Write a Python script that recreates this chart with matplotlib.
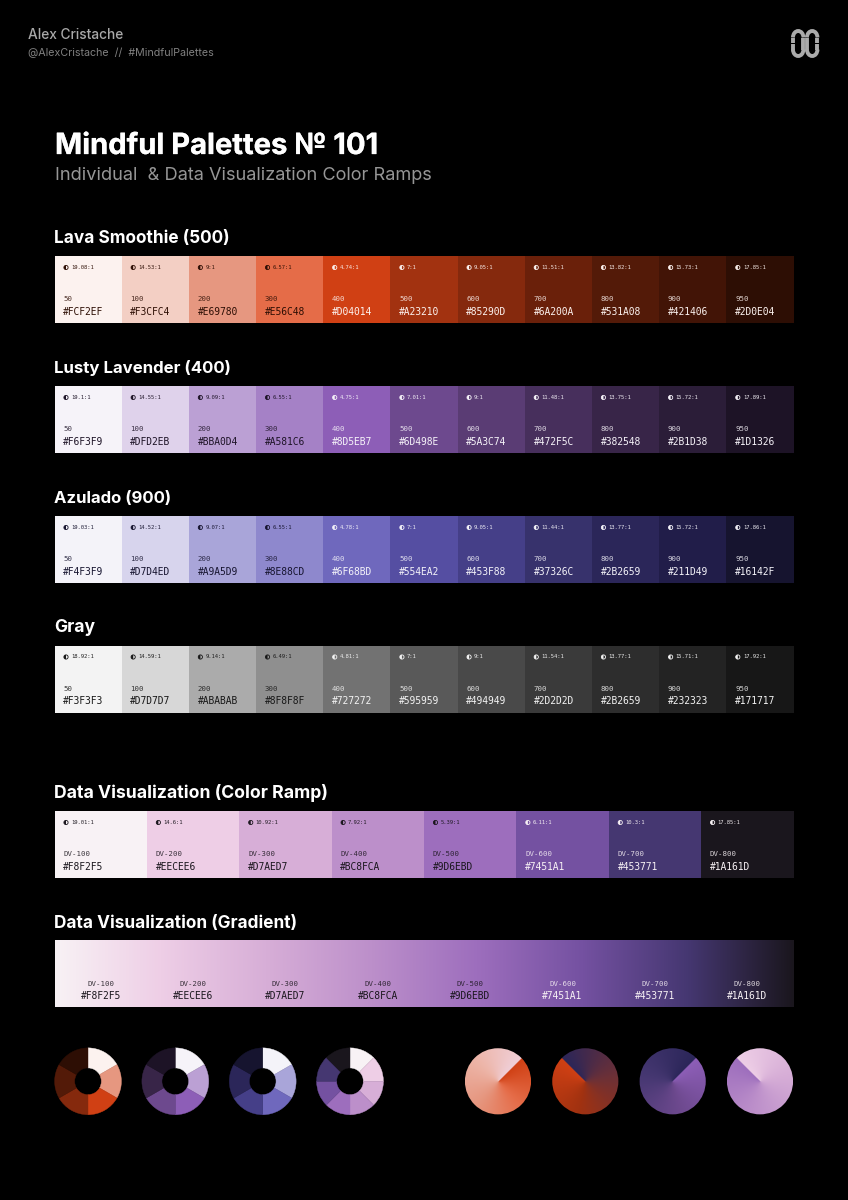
import numpy as np
import matplotlib
matplotlib.use('Agg')
import matplotlib.pyplot as plt
import matplotlib.patheffects as pe
from matplotlib.patches import Arc, Circle, Rectangle, Wedge
from matplotlib.colors import LinearSegmentedColormap

W, H = 848, 1200

steps = ['50', '100', '200', '300', '400', '500', '600', '700', '800', '900', '950']

lava_hex = ['#FCF2EF', '#F3CFC4', '#E69780', '#E56C48', '#D04014', '#A23210', '#85290D', '#6A200A', '#531A08', '#421406', '#2D0E04']
lava_ratio = ['19.08:1', '14.53:1', '9:1', '6.57:1', '4.74:1', '7:1', '9.05:1', '11.51:1', '13.82:1', '15.73:1', '17.85:1']

lavender_hex = ['#F6F3F9', '#DFD2EB', '#BBA0D4', '#A581C6', '#8D5EB7', '#6D498E', '#5A3C74', '#472F5C', '#382548', '#2B1D38', '#1D1326']
lavender_ratio = ['19.1:1', '14.55:1', '9.09:1', '6.55:1', '4.75:1', '7.01:1', '9:1', '11.48:1', '13.75:1', '15.72:1', '17.89:1']

azulado_hex = ['#F4F3F9', '#D7D4ED', '#A9A5D9', '#8E88CD', '#6F68BD', '#554EA2', '#453F88', '#37326C', '#2B2659', '#211D49', '#16142F']
azulado_ratio = ['19.03:1', '14.52:1', '9.07:1', '6.55:1', '4.78:1', '7:1', '9.05:1', '11.44:1', '13.77:1', '15.72:1', '17.86:1']

gray_hex = ['#F3F3F3', '#D7D7D7', '#ABABAB', '#8F8F8F', '#727272', '#595959', '#494949', '#2D2D2D', '#2B2659', '#232323', '#171717']
gray_fill = ['#F3F3F3', '#D7D7D7', '#ABABAB', '#8F8F8F', '#727272', '#595959', '#494949', '#3A3A3A', '#2D2D2D', '#232323', '#171717']
gray_ratio = ['18.92:1', '14.59:1', '9.14:1', '6.49:1', '4.81:1', '7:1', '9:1', '11.54:1', '13.77:1', '15.71:1', '17.92:1']

dv_names = ['DV-100', 'DV-200', 'DV-300', 'DV-400', 'DV-500', 'DV-600', 'DV-700', 'DV-800']
dv_hex = ['#F8F2F5', '#EECEE6', '#D7AED7', '#BC8FCA', '#9D6EBD', '#7451A1', '#453771', '#1A161D']
dv_ratio = ['19.01:1', '14.6:1', '10.92:1', '7.92:1', '5.39:1', '6.11:1', '10.3:1', '17.85:1']

# picked by eye from the donuts, one value per slice
donut_lava = ['#FCF2EF', '#E69780', '#D04014', '#85290D', '#531A08', '#2D0E04']
donut_lavender = ['#F6F3F9', '#BBA0D4', '#8D5EB7', '#6D498E', '#382548', '#1D1326']
donut_azulado = ['#F4F3F9', '#A9A5D9', '#6F68BD', '#453F88', '#2B2659', '#16142F']

# conic fills: start angle (clockwise from top) and colour stops
cone_starts = [45, 315, 45, 315]
cone_stops = [
    ['#D04014', '#E56C48', '#E69780', '#EDB5A8', '#F0CFD8'],
    ['#2B2659', '#6A3038', '#A23210', '#D04014'],
    ['#8D5EB7', '#6D498E', '#453771', '#2B2659'],
    ['#EECEE6', '#D7AED7', '#BC8FCA', '#9D6EBD'],
]

plt.rcParams['font.family'] = ['Inter', 'DejaVu Sans']
MONO = 'DejaVu Sans Mono'

fig = plt.figure(figsize=(W / 100, H / 100), dpi=100, facecolor='black')
ax = fig.add_axes([0, 0, 1, 1])
ax.set_xlim(0, W)
ax.set_ylim(H, 0)
ax.axis('off')


def inset(cx, cy, r):
    # axes box in pixel units, centred on cx,cy
    return fig.add_axes([(cx - r) / W, 1 - (cy + r) / H, 2 * r / W, 2 * r / H])


def swatch_text(x, y, label, code, ratio, tc):
    ax.add_patch(Circle((x + 11.5, y + 11.5), 2.1, fc='none', ec=tc, lw=0.6))
    ax.add_patch(Wedge((x + 11.5, y + 11.5), 2.1, 90, 270, fc=tc, ec='none'))
    ax.text(x + 16.5, y + 11.5, ratio, family=MONO, fontsize=4, color=tc, alpha=0.95, va='center')
    ax.text(x + 8.8, y + 43.3, label, family=MONO, fontsize=5.3, color=tc, alpha=0.85, va='center')
    ax.text(x + 8.8, y + 55.7, code, family=MONO, fontsize=6.9, color=tc, va='center')


def ramp(y, title, size, labels, codes, ratios, dark, light, split, fills=None):
    fills = fills or codes
    x0, x1 = 54.5, 793.5
    w = (x1 - x0) / len(codes)
    ax.text(x0, y - 13, title, fontsize=size, weight='bold', color='white')
    for i in range(len(codes)):
        x = x0 + i * w
        ax.add_patch(Rectangle((x, y), w + 0.3, 67, fc=fills[i], ec='none'))
        swatch_text(x, y, labels[i], codes[i], ratios[i], dark if i < split else light)


ax.text(28, 39, 'Alex Cristache', fontsize=9.9, color='#A8A8A8', weight='medium')
ax.text(28, 56, '@AlexCristache  //  #MindfulPalettes', fontsize=7.7, color='#808080')
title = ax.text(55, 154, 'Mindful Palettes № 101', fontsize=21, weight='bold', color='white')
title.set_path_effects([pe.withStroke(linewidth=0.2, foreground='white')])
ax.text(55, 180, 'Individual  & Data Visualization Color Ramps', fontsize=13.1, color='#969696')

# logo, four lobes with a thin gap at the waist
logo_grey = '#ABABAB'
for lx in [798.2, 812.2]:
    for ly, t1, t2 in [(37.5, 180, 360), (49.5, 0, 180)]:
        ax.add_patch(Arc((lx, ly), 10.5, 13, theta1=t1, theta2=t2, ec=logo_grey, lw=2.8))
for sx in [793, 817.4]:
    for y0, y1 in [(37.5, 43), (44.3, 49.5)]:
        ax.plot([sx, sx], [y0, y1], color=logo_grey, lw=2.8, solid_capstyle='butt')
for sx in [803.4, 807]:
    ax.plot([sx, sx], [37.5, 49.5], color=logo_grey, lw=2.8, solid_capstyle='butt')

ramp(256, 'Lava Smoothie (500)', 12.4, steps, lava_hex, lava_ratio, '#2D0E04', '#FCF2EF', 4)
ramp(386, 'Lusty Lavender (400)', 12.1, steps, lavender_hex, lavender_ratio, '#1D1326', '#F6F3F9', 4)
ramp(516, 'Azulado (900)', 12, steps, azulado_hex, azulado_ratio, '#16142F', '#F4F3F9', 4)
ramp(645.5, 'Gray', 12.6, steps, gray_hex, gray_ratio, '#171717', '#F3F3F3', 4, fills=gray_fill)
ramp(811, 'Data Visualization (Color Ramp)', 12.7, dv_names, dv_hex, dv_ratio, '#1A161D', '#F8F2F5', 5)

# gradient bar
ax.text(54.5, 928, 'Data Visualization (Gradient)', fontsize=12.4, weight='bold', color='white')
dv_cmap = LinearSegmentedColormap.from_list('dv', dv_hex, N=1024)
ax.imshow(np.linspace(0, 1, 1024)[None, :], cmap=dv_cmap, aspect='auto', interpolation='bilinear',
          extent=[54.5, 793.5, 1007.5, 940.5], zorder=1)
ax.set_xlim(0, W)
ax.set_ylim(H, 0)
cell = 739 / len(dv_names)
for i, name in enumerate(dv_names):
    tc = '#1A161D' if i < 5 else '#F8F2F5'
    cx = 54.5 + (i + 0.5) * cell
    ax.text(cx, 983.7, name, family=MONO, fontsize=5.3, color=tc, alpha=0.85, ha='center', va='center', zorder=2)
    ax.text(cx, 995.7, dv_hex[i], family=MONO, fontsize=6.9, color=tc, ha='center', va='center', zorder=2)

# donuts
donut_sets = [(88, donut_lava), (175.3, donut_lavender), (262.7, donut_azulado), (350, dv_hex)]
for cx, cols in donut_sets:
    a = inset(cx, 1081.3, 33.4)
    wedges, _ = a.pie([1] * len(cols), colors=cols, startangle=90, counterclock=False, radius=1,
                      wedgeprops={'width': 0.6, 'linewidth': 0})
    for wd, c in zip(wedges, cols):
        wd.set_edgecolor(c)
        wd.set_linewidth(0.3)
    a.set_xlim(-1, 1)
    a.set_ylim(-1, 1)

# conic pies, drawn as an image of the angle and clipped to a circle
grid = np.linspace(-1, 1, 400)
gx, gy = np.meshgrid(grid, grid)
angle = np.degrees(np.arctan2(gx, gy)) % 360
for cx, start, stops in zip([498, 585.3, 672.7, 760], cone_starts, cone_stops):
    a = inset(cx, 1081.3, 33.4)
    cm = LinearSegmentedColormap.from_list('c', stops, N=512)
    im = a.imshow(((angle - start) % 360) / 360, cmap=cm, vmin=0, vmax=1, origin='lower',
                  extent=[-1, 1, -1, 1], interpolation='antialiased')
    clip = Circle((0, 0), 0.99, transform=a.transData)
    im.set_clip_path(clip)
    a.axis('off')

fig.savefig('out.png', dpi=100, facecolor='black')
